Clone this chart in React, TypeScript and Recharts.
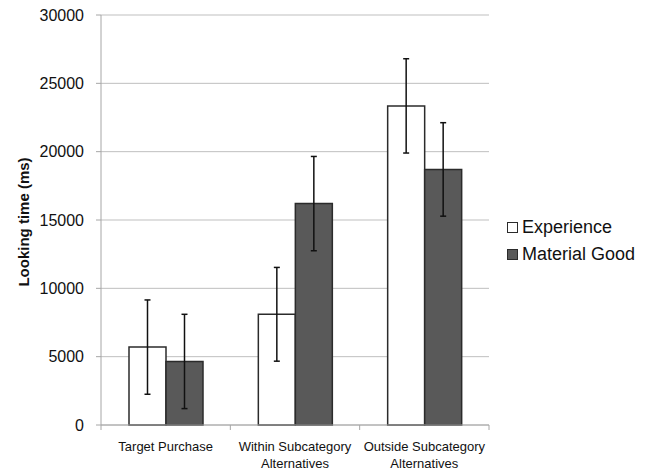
import React from "react";
import { BarChart, Bar, XAxis, YAxis, CartesianGrid, ErrorBar } from "recharts";

const categories = ["Target Purchase", "Within Subcategory\nAlternatives", "Outside Subcategory\nAlternatives"];
const experience = [5700, 8100, 23350];
const experienceErr = [3450, 3430, 3450];
const materialGood = [4650, 16200, 18700];
const materialGoodErr = [3450, 3450, 3420];
const yTicks = [0, 5000, 10000, 15000, 20000, 25000, 30000];

const data = categories.map((name, i) => ({
  name,
  experience: experience[i],
  experienceErr: experienceErr[i],
  materialGood: materialGood[i],
  materialGoodErr: materialGoodErr[i],
}));

const W = 654;
const H = 471;
const MARGIN = { top: 15, right: 165, bottom: 0, left: 0 };
const Y_W = 101;
const X_H = 46;
const PLOT_W = W - MARGIN.left - MARGIN.right - Y_W;

const FONT = "'Liberation Sans', Arial, sans-serif";
const AXIS = "#a6a6a6";
const DARK = "#595959";
const EDGE = "#2b2b2b";

function CategoryTick(props: any) {
  const { x, y, payload, index } = props;
  const band = PLOT_W / categories.length;
  const lines = String(payload.value).split("\n");
  return (
    <g>
      <line x1={x - band / 2} x2={x - band / 2} y1={y} y2={y + 5} stroke={AXIS} />
      {index === categories.length - 1 && (
        <line x1={x + band / 2} x2={x + band / 2} y1={y} y2={y + 5} stroke={AXIS} />
      )}
      <text x={x} y={y + 26} textAnchor="middle" fontSize={13} fontFamily={FONT} fill="#111">
        {lines.map((l, i) => (
          <tspan key={i} x={x} dy={i === 0 ? 0 : 17}>
            {l}
          </tspan>
        ))}
      </text>
    </g>
  );
}

const legendItems = [
  { label: "Experience", fill: "#ffffff" },
  { label: "Material Good", fill: DARK },
];

export default function App() {
  return (
    <div style={{ position: "relative", width: W, height: H, fontFamily: FONT }}>
      <style>{`body{margin:0;background:#fff}`}</style>
      <BarChart width={W} height={H} data={data} margin={MARGIN} barGap={0} barSize={37}>
        <CartesianGrid vertical={false} stroke="#bfbfbf" />
        <XAxis
          dataKey="name"
          interval={0}
          height={X_H}
          stroke={AXIS}
          tickLine={false}
          tickSize={0}
          tickMargin={0}
          tick={<CategoryTick />}
        />
        <YAxis
          width={Y_W}
          domain={[0, 30000]}
          ticks={yTicks}
          stroke={AXIS}
          tickSize={5}
          tickMargin={12}
          tick={{ fontSize: 16, fill: "#111", fontFamily: FONT }}
          label={{
            content: ({ viewBox }: any) => {
              const cx = 23;
              const cy = viewBox.y + viewBox.height / 2 + 2;
              return (
                <text
                  x={cx}
                  y={cy}
                  transform={`rotate(-90 ${cx} ${cy})`}
                  textAnchor="middle"
                  dominantBaseline="central"
                  fontSize={15}
                  fontWeight="bold"
                  fontFamily={FONT}
                  fill="#111"
                >
                  Looking time (ms)
                </text>
              );
            },
          }}
        />
        <Bar dataKey="experience" fill="#ffffff" stroke={EDGE} strokeWidth={1.5} isAnimationActive={false}>
          <ErrorBar dataKey="experienceErr" width={3} stroke="#111" strokeWidth={1.5} direction="y" />
        </Bar>
        <Bar dataKey="materialGood" fill={DARK} stroke={EDGE} strokeWidth={1.5} isAnimationActive={false}>
          <ErrorBar dataKey="materialGoodErr" width={3} stroke="#111" strokeWidth={1.5} direction="y" />
        </Bar>
      </BarChart>
      <div style={{ position: "absolute", left: 507, top: 214 }}>
        {legendItems.map((it) => (
          <div key={it.label} style={{ display: "flex", alignItems: "center", height: 27 }}>
            <span
              style={{
                display: "inline-block",
                width: 9,
                height: 9,
                background: it.fill,
                border: `1px solid ${EDGE}`,
                marginRight: 4,
              }}
            />
            <span style={{ fontSize: 18, color: "#111" }}>{it.label}</span>
          </div>
        ))}
      </div>
    </div>
  );
}
